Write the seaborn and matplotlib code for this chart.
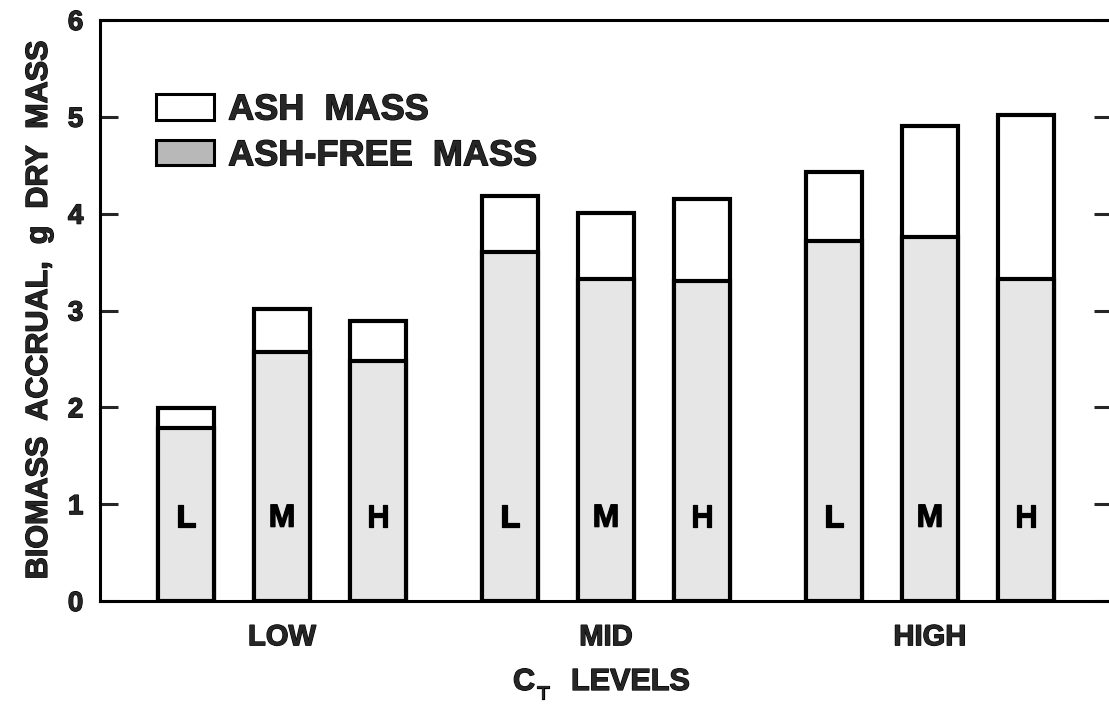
import matplotlib
matplotlib.use("Agg")
import matplotlib.pyplot as plt
import matplotlib.patheffects as pe
from matplotlib.patches import Patch
import seaborn as sns
import pandas as pd

# ---- data ----
ct_levels = ["LOW", "MID", "HIGH"]
sub_levels = ["L", "M", "H"]
total_mass = [[1.99, 3.02, 2.89],
              [4.18, 4.01, 4.15],
              [4.43, 4.91, 5.02]]
ash_free_mass = [[1.79, 2.57, 2.48],
                 [3.60, 3.33, 3.30],
                 [3.72, 3.76, 3.33]]
y_ticks = [0, 1, 2, 3, 4, 5, 6]
legend_labels = ["ASH  MASS", "ASH-FREE  MASS"]

rows = []
for gi, g in enumerate(ct_levels):
    for si, s in enumerate(sub_levels):
        rows.append({"group": g, "level": s,
                     "total": total_mass[gi][si],
                     "ashfree": ash_free_mass[gi][si]})
df = pd.DataFrame(rows)

sns.set_style("white")
plt.rcParams["font.family"] = ["Liberation Sans", "DejaVu Sans"]
plt.rcParams["font.weight"] = "bold"

heavy = [pe.withStroke(linewidth=0.9, foreground="black")]

fig = plt.figure(figsize=(11.09, 7.04), dpi=100)
ax = fig.add_axes([100 / 1109, 103 / 704, 1012 / 1109, 581 / 704])

lw = 3.0
gray = "#e6e6e6"
sns.barplot(data=df, x="group", y="total", hue="level", hue_order=sub_levels,
            order=ct_levels, palette=["white"] * 3, edgecolor="black",
            linewidth=lw, width=0.889, gap=0.41, legend=False, ax=ax,
            errorbar=None)
n_total = len(ax.patches)
sns.barplot(data=df, x="group", y="ashfree", hue="level", hue_order=sub_levels,
            order=ct_levels, palette=[gray] * 3, edgecolor="black",
            linewidth=lw, width=0.889, gap=0.41, legend=False, ax=ax,
            errorbar=None)

# letters inside bars
for p in ax.patches[n_total:]:
    if p.get_height() <= 0:
        continue
    xc = p.get_x() + p.get_width() / 2
    off = xc - round(xc)
    lab = sub_levels[0] if off < -0.1 else (sub_levels[2] if off > 0.1 else sub_levels[1])
    ax.text(xc, 0.85, lab, ha="center", va="center", fontsize=23,
            fontweight="bold", color="black", path_effects=heavy)

ax.set_xlim(-0.562, 2.562)
ax.set_ylim(0, 6)
ax.set_yticks(y_ticks)
ax.set_yticklabels([str(t) for t in y_ticks], fontsize=20, fontweight="bold")
ax.tick_params(axis="y", which="both", direction="in", length=13, width=2.2,
               left=True, right=True, labelleft=True, labelright=False, pad=12)
ax.tick_params(axis="x", length=0, pad=16, labelsize=21)
for lab in ax.get_xticklabels() + ax.get_yticklabels():
    lab.set_fontweight("bold")
    lab.set_path_effects(heavy)

for side in ["left", "bottom", "top"]:
    ax.spines[side].set_visible(True)
    ax.spines[side].set_linewidth(2.2)
    ax.spines[side].set_color("black")
ax.spines["right"].set_visible(False)

ax.set_xlabel("")
ax.set_ylabel("BIOMASS  ACCRUAL,  g  DRY  MASS", fontsize=22, fontweight="bold",
              labelpad=10, path_effects=heavy)

# x-axis title: C with subscript T, then LEVELS
fig.text(513 / 1109, 1 - 690 / 704, "C", fontsize=22, fontweight="bold",
         ha="left", va="baseline", path_effects=heavy)
fig.text(537 / 1109, 1 - 699 / 704, "T", fontsize=14, fontweight="bold",
         ha="left", va="baseline", path_effects=heavy)
fig.text(571 / 1109, 1 - 690 / 704, "LEVELS", fontsize=22, fontweight="bold",
         ha="left", va="baseline", path_effects=heavy)

handles = [Patch(facecolor="white", edgecolor="black", linewidth=2.2, label=legend_labels[0]),
           Patch(facecolor="#b8b8b8", edgecolor="black", linewidth=2.2, label=legend_labels[1])]
leg = ax.legend(handles=handles, loc="upper left", bbox_to_anchor=(0.041, 0.9),
                frameon=False, prop={"size": 26, "weight": "bold"},
                handlelength=1.6, handleheight=0.7, handletextpad=0.4,
                labelspacing=0.3, borderaxespad=0)
for t in leg.get_texts():
    t.set_path_effects(heavy)

fig.savefig("out.png", dpi=100)
